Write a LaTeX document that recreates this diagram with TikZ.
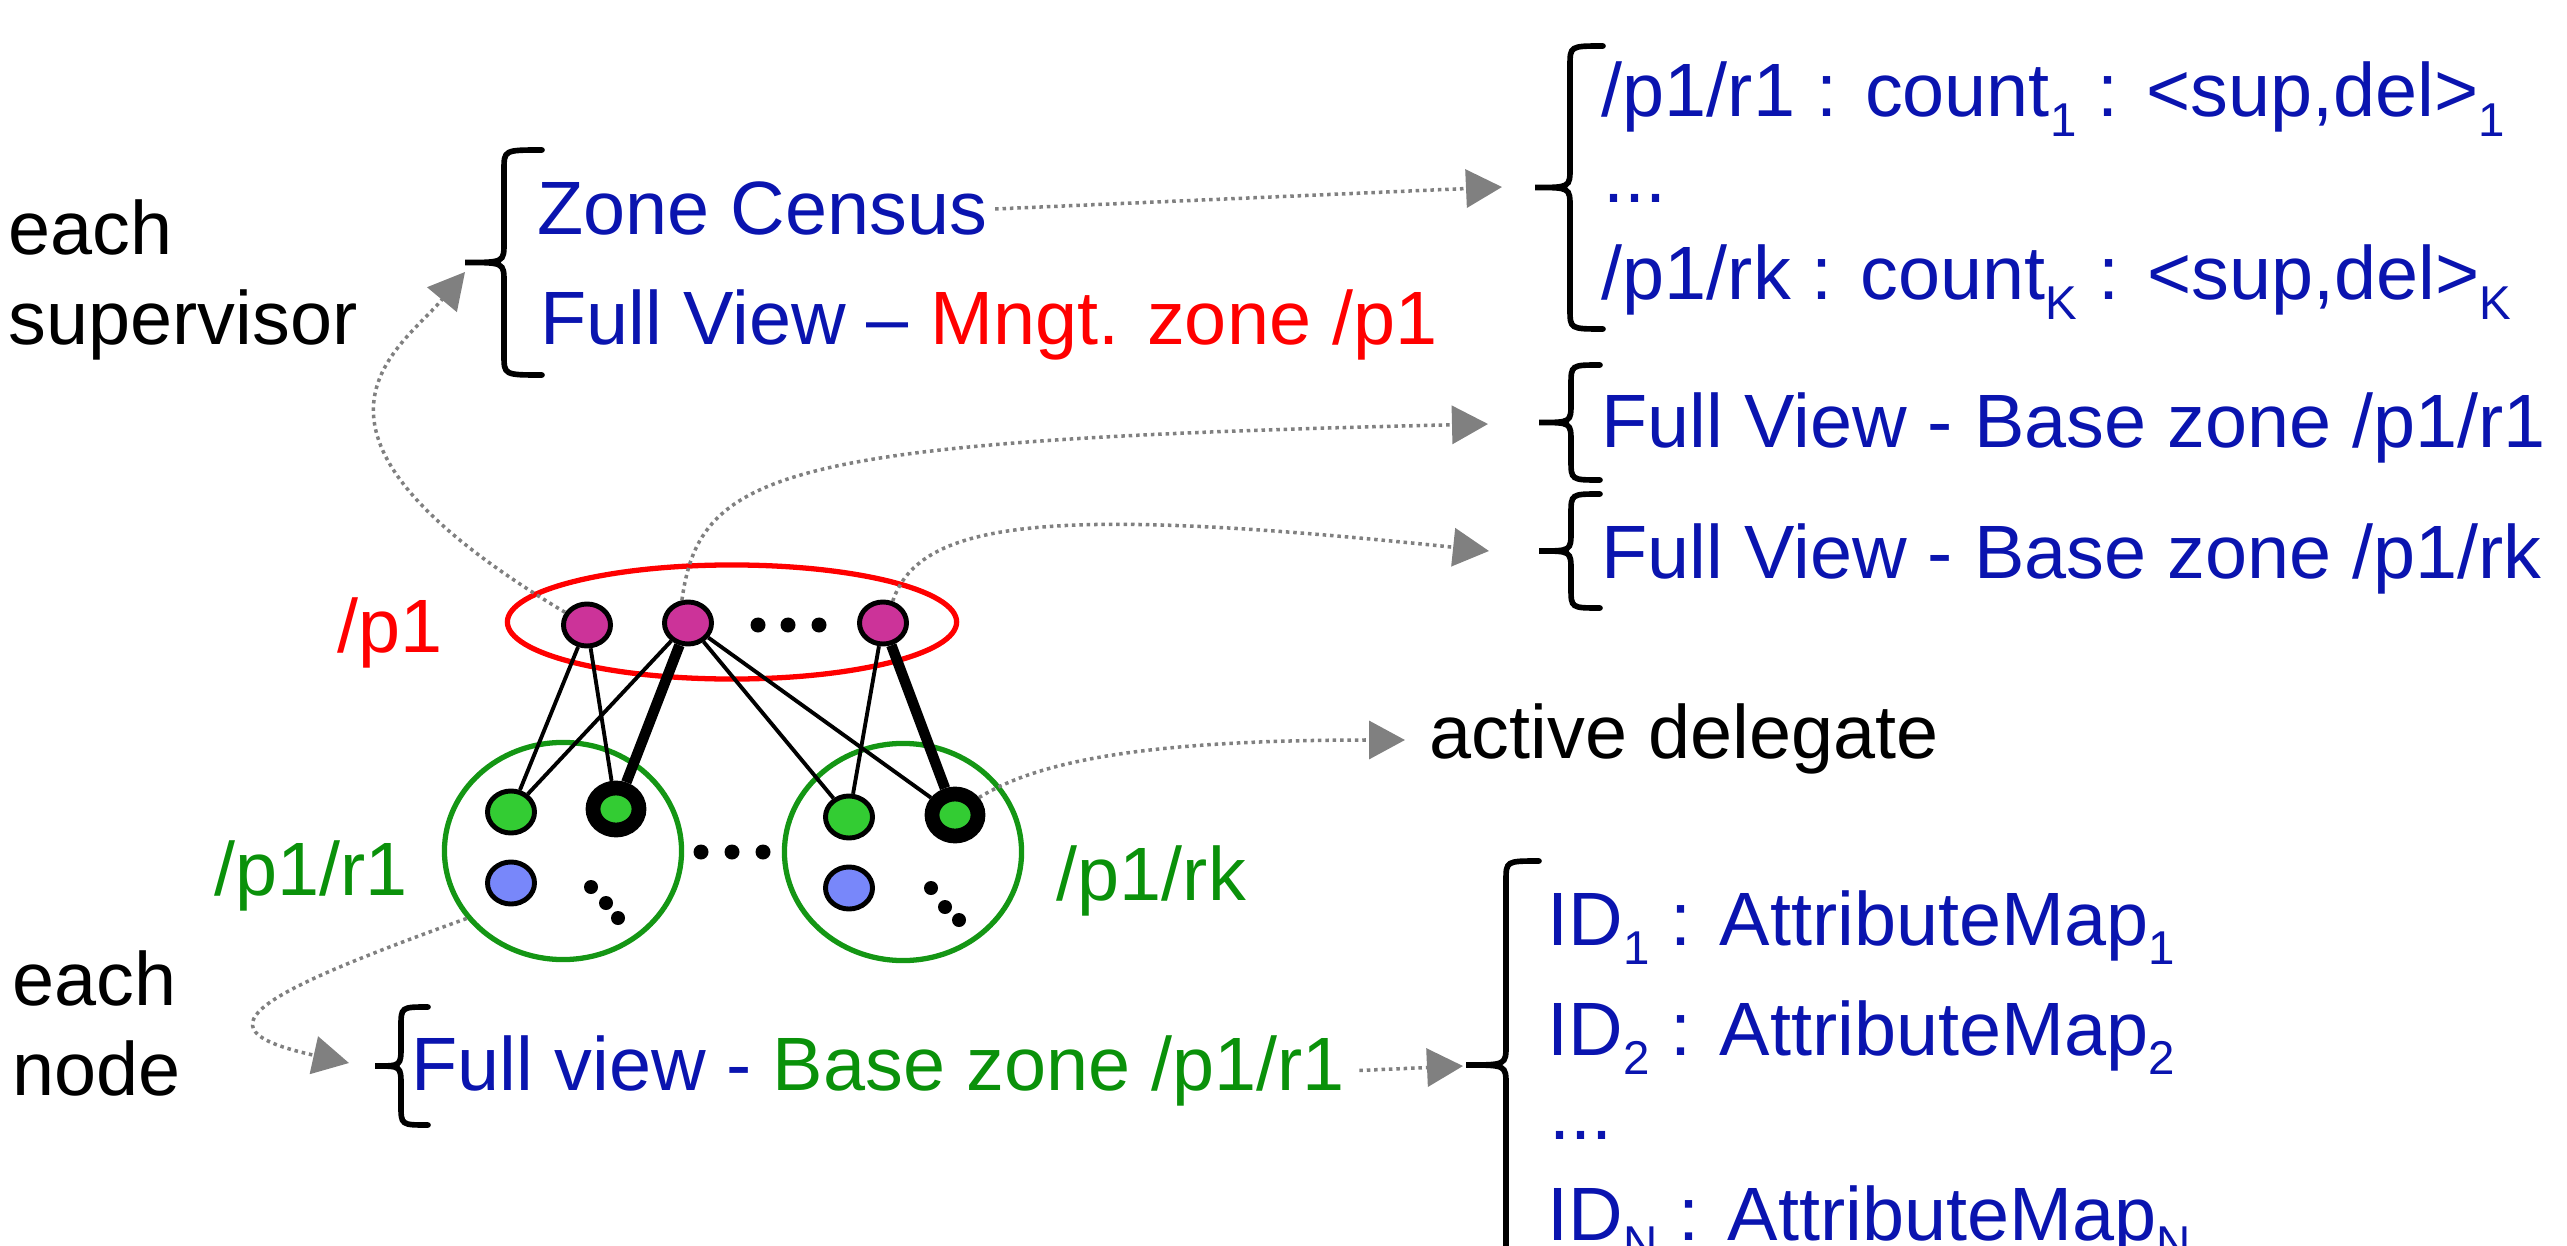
\documentclass[tikz,border=0pt]{standalone}
\usepackage{fontspec}
\setmainfont{Liberation Sans}
\usetikzlibrary{arrows.meta,shapes.geometric}
\definecolor{txtblue}{RGB}{10,20,175}
\definecolor{txtgreen}{RGB}{10,145,10}
\definecolor{zonegreen}{RGB}{20,150,20}
\definecolor{supfill}{RGB}{204,51,153}
\definecolor{memfill}{RGB}{51,204,51}
\definecolor{othfill}{RGB}{120,135,250}
\definecolor{arrgray}{RGB}{128,128,128}
\newcommand{\idx}[1]{\raisebox{-5.5pt}{\fontsize{13.5}{14}\selectfont#1}}
\newcommand{\curly}[5]{%
  \draw[brc] (#1,#4) .. controls (#2,#4) .. (#2,{#4+20})
    -- (#2,{(#4+#5)/2-20}) .. controls (#2,{(#4+#5)/2}) .. (#3,{(#4+#5)/2})
    .. controls (#2,{(#4+#5)/2}) .. (#2,{(#4+#5)/2+20})
    -- (#2,{#5-20}) .. controls (#2,#5) .. (#1,#5);}
\begin{document}
\begin{tikzpicture}[x=0.01cm, y=-0.01cm,
  every node/.style={font=\fontsize{21.5}{26}\selectfont, inner sep=0pt},
  lbl/.style={anchor=base west},
  supnode/.style={ellipse, draw, line width=1.4pt, fill=supfill, minimum width=0.47cm, minimum height=0.42cm},
  memnode/.style={ellipse, draw, line width=1.4pt, fill=memfill, minimum width=0.47cm, minimum height=0.42cm},
  delnode/.style={memnode, line width=4.2pt, minimum width=0.46cm, minimum height=0.42cm},
  othnode/.style={memnode, fill=othfill},
  zone/.style={ellipse, draw=zonegreen, line width=1.5pt, minimum width=2.37cm, minimum height=2.17cm},
  lnk/.style={line width=1.1pt},
  dlnk/.style={line width=3pt},
  dotarr/.style={draw=arrgray, line width=1pt, dash pattern=on 1pt off 1.1pt, -{Triangle[length=0.36cm, width=0.38cm]}},
  brc/.style={line width=1.6pt, line cap=round}]
  \useasboundingbox (0,0) rectangle (2567,1246);
  \node[ellipse, draw=red, line width=1.5pt, minimum width=4.49cm, minimum height=1.14cm] (p1) at (732,622) {};
  \node[zone] (r1) at (563,851) {};
  \node[zone] (rk) at (903,852) {};
  \draw
    (587,625) node[supnode] (s1) {}
    (688,623) node[supnode] (s2) {}
    (883,623) node[supnode] (s3) {}
    (511,812) node[memnode] (m1) {}
    (616,809) node[delnode] (d1) {}
    (849,817) node[memnode] (m2) {}
    (955,815) node[delnode] (d2) {}
    (511,883) node[othnode] (o1) {}
    (849,888) node[othnode] (o2) {};
  \begin{scope}[-]
    \draw[lnk] (s1) to (m1);
    \draw[lnk] (s1) to (d1);
    \draw[lnk] (s2) to (m1);
    \draw[dlnk] (s2) to (d1);
    \draw[lnk] (s2) to (m2);
    \draw[lnk] (s2) to (d2);
    \draw[lnk] (s3) to (m2);
    \draw[dlnk] (s3) to (d2);
  \end{scope}
  \foreach \x in {758,788,819} \fill (\x,625) circle (0.075cm);
  \foreach \x in {701,732,763} \fill (\x,852) circle (0.075cm);
  \foreach \x/\y in {591/887,606/903,618/918,931/888,945/907,959/920} \fill (\x,\y) circle (0.07cm);
  \node[lbl, text=red] (lp1) at (337,652) {/p1};
  \node[lbl, text=txtgreen] (lr1) at (214,895) {/p1/r1};
  \node[lbl, text=txtgreen] (lrk) at (1056,900) {/p1/rk};
  \node[lbl] (each1) at (8,255) {each};
  \node[lbl] (sup1) at (8,345) {supervisor};
  \node[lbl] (each2) at (12,1005) {each};
  \node[lbl] (nd) at (12,1095) {node};
  \node[lbl, text=txtblue] (zc) at (537,235) {Zone Census};
  \node[lbl, text=txtblue] (fvm) at (540,345) {Full View -- \textcolor{red}{Mngt. zone /p1}};
  \node[lbl, text=txtblue] (c1) at (1601,117) {/p1/r1 : count\idx{1} : <sup,del>\idx{1}};
  \node[lbl, text=txtblue] (c2) at (1603,203) {...};
  \node[lbl, text=txtblue] (c3) at (1601,300) {/p1/rk : count\idx{K} : <sup,del>\idx{K}};
  \node[lbl, text=txtblue] (fb1) at (1601,447) {Full View - Base zone /p1/r1};
  \node[lbl, text=txtblue] (fbk) at (1601,578) {Full View - Base zone /p1/rk};
  \node[lbl] (ad) at (1429,758) {active delegate};
  \node[lbl, text=txtblue] (fvb) at (411,1090) {Full view - \textcolor{txtgreen}{Base zone /p1/r1}};
  \node[lbl, text=txtblue] (id1) at (1547,945) {ID\idx{1} : AttributeMap\idx{1}};
  \node[lbl, text=txtblue] (id2) at (1547,1055) {ID\idx{2} : AttributeMap\idx{2}};
  \node[lbl, text=txtblue] (id3) at (1549,1139) {...};
  \node[lbl, text=txtblue] (idn) at (1547,1240) {ID\idx{N} : AttributeMap\idx{N}};
  \curly{542}{504}{465}{150}{375}
  \curly{1603}{1570}{1535}{46}{329}
  \curly{1600}{1571}{1539}{365}{480}
  \curly{1600}{1571}{1539}{494}{608}
  \curly{428}{401}{375}{1007}{1125}
  \curly{1539}{1506}{1466}{861}{1269}
  \coordinate (t1) at (465,272);
  \coordinate (t2) at (1502,187);
  \coordinate (t3) at (1488,424);
  \coordinate (t4) at (1489,551);
  \coordinate (t5) at (1405,740);
  \coordinate (t6) at (349,1063);
  \coordinate (t7) at (1463,1066);
  \draw[dotarr] (s1.150) .. controls (260,430) and (400,350) .. (t1);
  \draw[dotarr] ([xshift=2pt]zc.east) -- (t2);
  \draw[dotarr] (s2.105) .. controls (700,470) and (780,440) .. (t3);
  \draw[dotarr] (s3.66) .. controls (920,520) and (1050,505) .. (t4);
  \draw[dotarr] (d2.36) .. controls (1040,760) and (1150,740) .. (t5);
  \draw[dotarr] (r1.215) .. controls (240,1000) and (200,1030) .. (t6);
  \draw[dotarr] ([xshift=4pt]fvb.east) -- (t7);
\end{tikzpicture}
\end{document}
